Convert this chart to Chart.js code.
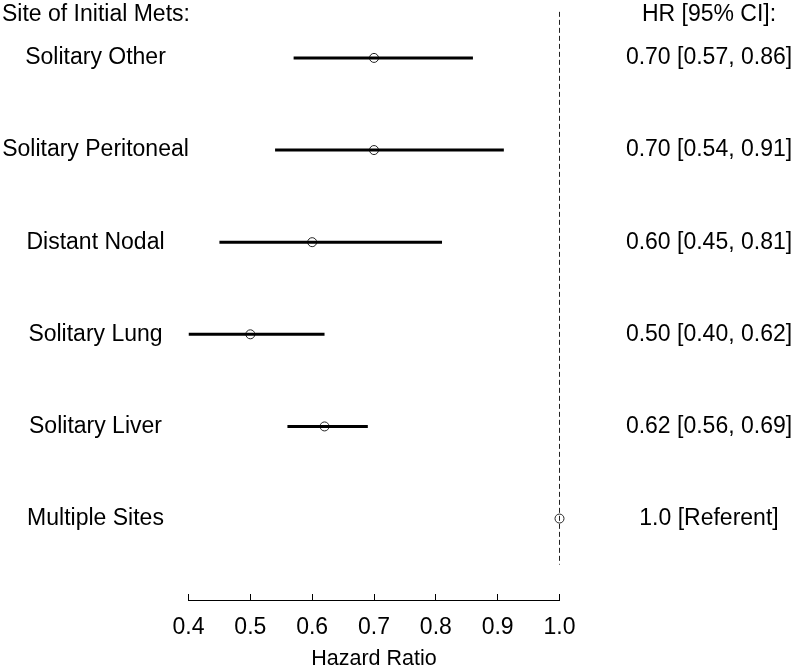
<!DOCTYPE html>
<html>
<head>
<meta charset="utf-8">
<script src="https://cdn.jsdelivr.net/npm/chart.js@4"></script>
<style>
  html, body { margin: 0; padding: 0; background: #fff; }
  #wrap { width: 797px; height: 670px; }
</style>
</head>
<body>
<div id="wrap"><canvas id="myChart" width="797" height="670"></canvas></div>
<script>
// forest plot data
const sites = ['Solitary Other', 'Solitary Peritoneal', 'Distant Nodal', 'Solitary Lung', 'Solitary Liver', 'Multiple Sites'];
const hr = [0.70, 0.70, 0.60, 0.50, 0.62, 1.0];
const lower = [0.57, 0.54, 0.45, 0.40, 0.56, null];
const upper = [0.86, 0.91, 0.81, 0.62, 0.69, null];
const hrText = ['0.70 [0.57, 0.86]', '0.70 [0.54, 0.91]', '0.60 [0.45, 0.81]', '0.50 [0.40, 0.62]', '0.62 [0.56, 0.69]', '1.0 [Referent]'];
const xTicks = [0.4, 0.5, 0.6, 0.7, 0.8, 0.9, 1.0];
const leftHeader = 'Site of Initial Mets:';
const rightHeader = 'HR [95% CI]:';
const axisTitle = 'Hazard Ratio';

const FONT = '"Liberation Sans", Arial, sans-serif';

let datasets = [];
for (let i = 0; i < sites.length; i++) {
    if (lower[i] == null) continue;
    datasets.push({
        type: 'line',
        data: [{x: lower[i], y: i}, {x: upper[i], y: i}],
        borderColor: '#000',
        borderWidth: 3,
        pointRadius: 0,
        fill: false
    });
}
// referent dashed line at 1.0
datasets.push({
    type: 'line',
    data: [{x: 1.0, y: -0.5}, {x: 1.0, y: sites.length - 0.5}],
    borderColor: '#222',
    borderWidth: 1,
    borderDash: [5, 3],
    pointRadius: 0,
    fill: false,
    clip: false
});
datasets.push({
    type: 'scatter',
    data: hr.map((v, i) => ({x: v, y: i})),
    pointStyle: 'circle',
    pointRadius: 4.5,
    pointBorderWidth: 1,
    pointBorderColor: '#222',
    pointBackgroundColor: 'rgba(0,0,0,0)',
    clip: false
});

const textPlugin = {
    id: 'forestText',
    afterDraw(chart) {
        const ctx = chart.ctx;
        const ys = chart.scales.y;
        const xs = chart.scales.x;
        ctx.save();
        ctx.fillStyle = '#000';
        ctx.font = '23px ' + FONT;
        ctx.textBaseline = 'middle';
        ctx.textAlign = 'left';
        ctx.fillText(leftHeader, 2, 15);
        ctx.textAlign = 'center';
        ctx.fillText(rightHeader, 709, 15);
        for (let i = 0; i < sites.length; i++) {
            const y = ys.getPixelForValue(i);
            ctx.fillText(sites[i], 95.5, y);
            ctx.fillText(hrText[i], 709, y);
        }
        // upward tick marks on the x axis
        ctx.strokeStyle = '#000';
        ctx.lineWidth = 1;
        const b = chart.chartArea.bottom;
        xTicks.forEach(t => {
            const x = Math.floor(xs.getPixelForValue(t)) + 0.5;
            ctx.beginPath();
            ctx.moveTo(x, b);
            ctx.lineTo(x, b - 6);
            ctx.stroke();
        });
        ctx.restore();
    }
};

const ctx = document.getElementById('myChart').getContext('2d');
const myChart = new Chart(ctx, {
    data: { datasets: datasets },
    options: {
        responsive: false,
        animation: false,
        events: [],
        layout: { padding: { left: 188.5, right: 237.5, top: 0, bottom: 0 } },
        plugins: { legend: { display: false }, tooltip: { enabled: false } },
        scales: {
            x: {
                type: 'linear',
                min: 0.4,
                max: 1.0,
                afterBuildTicks: axis => { axis.ticks = xTicks.map(v => ({value: v})); },
                ticks: {
                    color: '#000',
                    font: { family: FONT, size: 23, lineHeight: 1 },
                    padding: 16.5,
                    maxRotation: 0,
                    callback: v => v.toFixed(1)
                },
                grid: { display: true, drawOnChartArea: false, drawTicks: false, tickLength: 0 },
                border: { display: true, color: '#000', width: 1 },
                title: {
                    display: true,
                    text: axisTitle,
                    color: '#000',
                    font: { family: FONT, size: 21.5, lineHeight: 1 },
                    padding: { top: -7.5, bottom: 0 }
                }
            },
            y: {
                type: 'linear',
                display: false,
                reverse: true,
                min: -0.569,
                max: 5.884
            }
        }
    },
    plugins: [textPlugin]
});
</script>
</body>
</html>
